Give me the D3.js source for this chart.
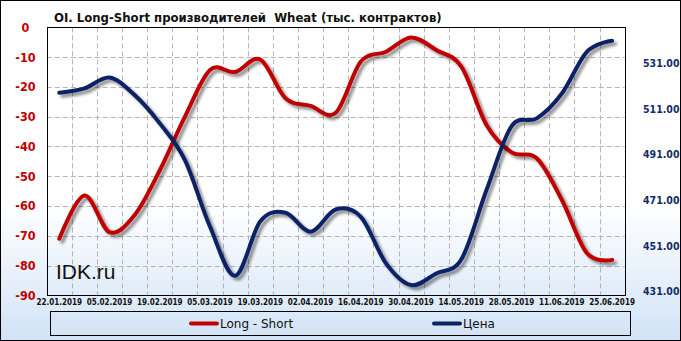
<!DOCTYPE html>
<html><head><meta charset="utf-8">
<script src="https://cdn.jsdelivr.net/npm/d3@7"></script>
<style>
html,body{margin:0;padding:0;background:#fff;}
svg{display:block;}
</style></head>
<body>
<svg id="c" width="681" height="341"></svg>
<script>
const dates = ["22.01.2019","29.01.2019","05.02.2019","12.02.2019","19.02.2019","26.02.2019","05.03.2019","12.03.2019","19.03.2019","26.03.2019","02.04.2019","09.04.2019","16.04.2019","23.04.2019","30.04.2019","07.05.2019","14.05.2019","21.05.2019","28.05.2019","04.06.2019","11.06.2019","18.06.2019","25.06.2019"];
const longShort = [-71, -56.5, -68.8, -63, -48, -30, -14.3, -15, -10.8, -23.8, -26.4, -28.7, -11.5, -8.2, -3.4, -7.6, -13.2, -32.8, -42, -44, -58, -75.9, -78.1];
const price = [518.1, 520.0, 524.8, 517.1, 504.7, 488.6, 459.4, 438.0, 461.8, 465.6, 457.3, 467.0, 463.8, 443.4, 433.9, 439.0, 445.2, 475.5, 503.5, 506.9, 517.8, 536.1, 540.9];
const leftTicks = [0,-10,-20,-30,-40,-50,-60,-70,-80,-90];
const rightTicks = [531,511,491,471,451,431];
const title = "OI. Long-Short производителей  Wheat (тыс. контрактов)";
const seriesNames = ["Long - Short","Цена"];

const svg = d3.select("#c");
const W=681,H=341;
const L=46.7,R=624.7,T=27.3,B=295.3;
const RED="#c00000", BLUE="#0b2466";

const defs = svg.append("defs");
const g = defs.append("linearGradient").attr("id","bg").attr("x1",0).attr("y1",0).attr("x2",0).attr("y2",1);
g.append("stop").attr("offset","0%").attr("stop-color","#ffffff");
g.append("stop").attr("offset","60%").attr("stop-color","#ffffff");
g.append("stop").attr("offset","100%").attr("stop-color","#d1e3f6");
const f = defs.append("filter").attr("id","sh").attr("x","-10%").attr("y","-10%").attr("width","120%").attr("height","130%");
f.append("feGaussianBlur").attr("in","SourceAlpha").attr("stdDeviation",1.6).attr("result","b");
f.append("feOffset").attr("in","b").attr("dx",2.5).attr("dy",2.5).attr("result","o");
f.append("feComponentTransfer").attr("in","o").attr("result","o2").append("feFuncA").attr("type","linear").attr("slope",0.45);
const m = f.append("feMerge"); m.append("feMergeNode").attr("in","o2"); m.append("feMergeNode").attr("in","SourceGraphic");

svg.append("rect").attr("x",0.5).attr("y",0.5).attr("width",W-1).attr("height",H-1).attr("fill","url(#bg)").attr("stroke","#000");

const x = d3.scaleBand().domain(dates).range([L,R]).padding(0);
const cx = d => x(d)+x.bandwidth()/2;
const yL = d3.scaleLinear().domain([-90,0]).range([B,T]);
const yR = d3.scaleLinear().domain([429.42,546.76]).range([B,T]);

// grid
const grid = svg.append("g").attr("stroke","#b4b4b4").attr("stroke-width",1).attr("stroke-dasharray","5,3").attr("fill","none");
leftTicks.filter(v=>v>-90 && v<0).forEach(v=>{
  grid.append("line").attr("x1",L).attr("x2",R).attr("y1",Math.round(yL(v))+0.5).attr("y2",Math.round(yL(v))+0.5);
});
dates.slice(1).forEach(d=>{
  const xx=Math.round(x(d))+0.5;
  grid.append("line").attr("x1",xx).attr("x2",xx).attr("y1",T).attr("y2",B);
});

// watermark
svg.append("text").attr("x",56).attr("y",279).attr("font-family","Liberation Sans, Arial, sans-serif").attr("font-size",21).attr("fill","#111").text("IDK.ru");

// lines
const line = (yS, vals) => d3.line().x((v,i)=>cx(dates[i])).y(v=>yS(v)).curve(d3.curveCardinal.tension(0))(vals);
svg.append("path").attr("d",line(yL,longShort)).attr("fill","none").attr("stroke",RED).attr("stroke-width",4).attr("stroke-linecap","round").attr("filter","url(#sh)");
svg.append("path").attr("d",line(yR,price)).attr("fill","none").attr("stroke",BLUE).attr("stroke-width",4).attr("stroke-linecap","round").attr("filter","url(#sh)");

// plot border
svg.append("rect").attr("x",Math.round(L)+0.5).attr("y",Math.round(T)+0.5).attr("width",Math.round(R)-Math.round(L)).attr("height",Math.round(B)-Math.round(T)).attr("fill","none").attr("stroke","#000");

// left axis labels
const cond = "DejaVu Sans Condensed, DejaVu Sans, sans-serif";
svg.append("g").selectAll("text").data(leftTicks).join("text")
  .attr("x",25.5).attr("y",d=>yL(d)).attr("dy","0.36em").attr("text-anchor","middle")
  .attr("font-family",cond).attr("font-weight","bold").attr("font-size",12.5).attr("fill",RED).text(d=>d);
// right axis labels
svg.append("g").selectAll("text").data(rightTicks).join("text")
  .attr("x",643).attr("y",d=>yR(d)).attr("dy","0.36em").attr("text-anchor","start")
  .attr("font-family",cond).attr("font-weight","bold").attr("font-size",10.5).attr("fill","#132c68").text(d=>d.toFixed(2));
// x labels
svg.append("g").selectAll("text").data(dates.filter((d,i)=>i%2===0)).join("text")
  .attr("x",d=>cx(d)).attr("y",301.7).attr("dy","0.36em").attr("text-anchor","middle")
  .attr("font-family",cond).attr("font-weight","bold").attr("font-size",8).attr("fill","#111").text(d=>d);

// title
svg.append("text").attr("x",54).attr("y",21.5).attr("font-family",cond).attr("font-weight","bold").attr("font-size",13).attr("fill","#111").attr("xml:space","preserve").text(title);

// legend
svg.append("rect").attr("x",50.5).attr("y",311.5).attr("width",580).attr("height",24).attr("fill","none").attr("stroke","#000");
const leg = [{n:seriesNames[0],c:RED,x:190},{n:seriesNames[1],c:BLUE,x:433}];
leg.forEach(l=>{
  svg.append("line").attr("x1",l.x+1).attr("x2",l.x+27).attr("y1",323.5).attr("y2",323.5).attr("stroke",l.c).attr("stroke-width",4).attr("stroke-linecap","round");
  svg.append("text").attr("x",l.x+30).attr("y",323.5).attr("dy","0.36em").attr("font-family","DejaVu Sans, Verdana, sans-serif").attr("font-size",12).attr("fill","#111").text(l.n);
});
</script>
</body></html>
